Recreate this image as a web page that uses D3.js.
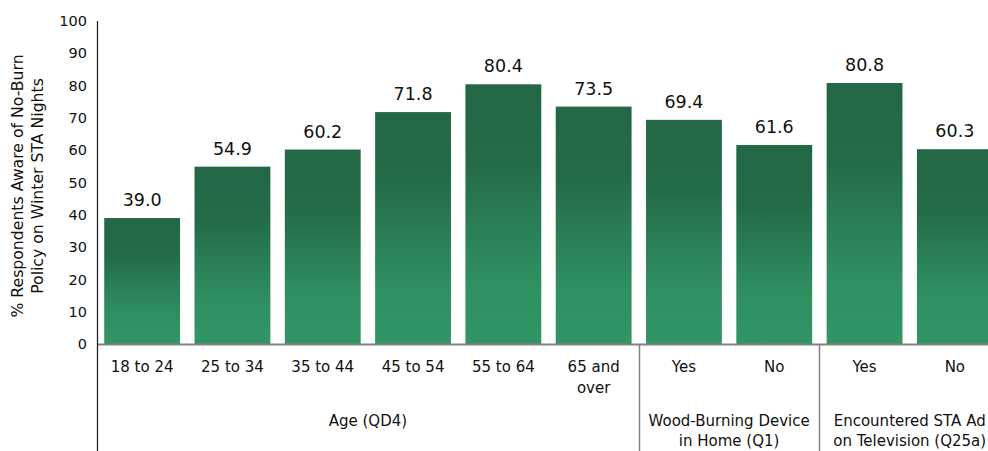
<!DOCTYPE html>
<html><head><meta charset="utf-8">
<script src="https://cdn.jsdelivr.net/npm/d3@7"></script>
<style>body{margin:0;background:#fff}svg{display:block;font-family:"DejaVu Sans",Verdana,sans-serif}</style>
</head><body><svg id="c" width="988" height="451"></svg>
<script>
const categories = ["18 to 24","25 to 34","35 to 44","45 to 54","55 to 64","65 and\nover","Yes","No","Yes","No"];
const values = [39.0,54.9,60.2,71.8,80.4,73.5,69.4,61.6,80.8,60.3];
const groups = [
  {label:["Age (QD4)"], start:0, end:6},
  {label:["Wood-Burning Device","in Home (Q1)"], start:6, end:8},
  {label:["Encountered STA Ad","on Television (Q25a)"], start:8, end:10}
];
const yTicks = [0,10,20,30,40,50,60,70,80,90,100];
const yTitle = ["% Respondents Aware of No-Burn","Policy on Winter STA Nights"];

const svg = d3.select("#c");
const x0 = 97, x1 = 1000;
const x = d3.scaleBand().domain(d3.range(categories.length)).range([x0,x1]).paddingInner(0.16).paddingOuter(0.08);
const y = d3.scaleLinear().domain([0,100]).range([344,21]);

const defs = svg.append("defs");
const g = defs.append("linearGradient").attr("id","gr").attr("x1",0).attr("y1",0).attr("x2",0).attr("y2",1);
g.append("stop").attr("offset","0%").attr("stop-color","#236745");
g.append("stop").attr("offset","30%").attr("stop-color","#246b48");
g.append("stop").attr("offset","75%").attr("stop-color","#2f8f61");
g.append("stop").attr("offset","100%").attr("stop-color","#319566");

svg.selectAll("rect.bar").data(values).join("rect").attr("class","bar")
  .attr("x",(d,i)=>x(i)).attr("width",x.bandwidth())
  .attr("y",d=>y(d)).attr("height",d=>y(0)-y(d)).attr("fill","url(#gr)");

svg.selectAll("text.val").data(values).join("text").attr("class","val")
  .attr("x",(d,i)=>x(i)+x.bandwidth()/2).attr("y",d=>y(d)-12)
  .attr("text-anchor","middle").attr("font-size","17.5px").attr("fill","#111")
  .text(d=>d.toFixed(1));

// zero line
svg.append("line").attr("x1",x0).attr("x2",988).attr("y1",y(0)+0.5).attr("y2",y(0)+0.5).attr("stroke","#808080").attr("stroke-width",2);

// y axis
const ax = svg.append("g").attr("transform",`translate(${x0},0)`)
  .call(d3.axisLeft(y).tickValues(yTicks).tickSize(0).tickPadding(10));
ax.select(".domain").remove();
ax.selectAll("text").attr("font-size","14.5px").attr("fill","#111").style("font-family","DejaVu Sans, sans-serif");
svg.append("line").attr("x1",x0+0.5).attr("x2",x0+0.5).attr("y1",21).attr("y2",451).attr("stroke","#222").attr("stroke-width",1.3);

// category labels
categories.forEach((c,i)=>{
  const t = svg.append("text").attr("x",x(i)+x.bandwidth()/2).attr("y",372)
    .attr("text-anchor","middle").attr("font-size","15px").attr("fill","#111");
  c.split("\n").forEach((l,k)=>t.append("tspan").attr("x",x(i)+x.bandwidth()/2).attr("dy",k?21:0).text(l));
});

// groups
groups.forEach((gp,gi)=>{
  const left = x(gp.start) - x.step()*x.paddingOuter();
  const right = x(gp.end-1) + x.bandwidth() + x.step()*x.paddingOuter();
  const cx = (left+right)/2;
  if(gi>0) svg.append("line").attr("x1",Math.round(left)+0.5).attr("x2",Math.round(left)+0.5).attr("y1",y(0)).attr("y2",451).attr("stroke","#808080").attr("stroke-width",1.5);
  const t = svg.append("text").attr("x",cx).attr("y",426).attr("text-anchor","middle").attr("font-size","15px").attr("fill","#111");
  gp.label.forEach((l,k)=>t.append("tspan").attr("x",cx).attr("dy",k?20:0).text(l));
});

// y title
yTitle.forEach((l,k)=>{
  svg.append("text").attr("transform",`translate(${23+k*20},186) rotate(-90)`)
    .attr("text-anchor","middle").attr("font-size","15.7px").attr("fill","#111").text(l);
});
</script></body></html>
